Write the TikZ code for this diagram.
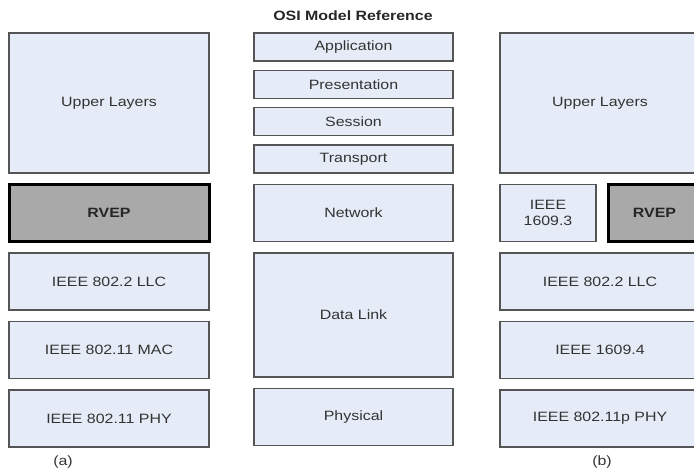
\documentclass[tikz,border=0pt]{standalone}
\usepackage{fontspec}
\setmainfont{Liberation Sans}[FakeStretch=1.18]
\usetikzlibrary{positioning}
\definecolor{layerfill}{HTML}{E6ECF7}
\definecolor{layerline}{HTML}{555555}
\definecolor{rvepfill}{HTML}{A9A9A9}
\definecolor{labeltext}{HTML}{333333}
\newcommand\layerfont{\fontsize{13.5}{16}\selectfont}
\tikzset{
  layer/.style={rectangle,draw=layerline,line width=1.2pt,fill=layerfill,text=labeltext,
    minimum width=200pt,minimum height=57pt,inner sep=0pt,outer sep=0pt},
  thinlayer/.style={layer,minimum width=199pt,minimum height=28pt},
  rvep/.style={layer,draw=black,line width=3pt,fill=rvepfill,text=black!85,font=\layerfont\bfseries},
}
\begin{document}
\begin{tikzpicture}[x=1pt,y=1pt,node distance=11.5pt,font=\layerfont]
\useasboundingbox (0,0) rectangle (694,472);
\node[font=\layerfont\bfseries,text=black!85] (title) at (353,456) {OSI Model Reference};
% (a) stack
\node[layer,minimum height=140pt,anchor=north] (Ua) at (109,439) {Upper Layers};
\node[rvep,below=of Ua] (Ra) {RVEP};
\node[layer,below=of Ra] (LLCa) {IEEE 802.2 LLC};
\node[layer,below=of LLCa] (MACa) {IEEE 802.11 MAC};
\node[layer,below=of MACa] (PHYa) {IEEE 802.11 PHY};
\node[text=labeltext] (capa) at (63,10) {(a)};
% OSI reference stack
\node[thinlayer,anchor=north] (App) at (353.5,439) {Application};
\node[thinlayer,below=9.33pt of App] (Pres) {Presentation};
\node[thinlayer,below=9.33pt of Pres] (Sess) {Session};
\node[thinlayer,below=9.33pt of Sess] (Trans) {Transport};
\node[layer,minimum width=199pt,below=of Trans] (Net) {Network};
\node[layer,minimum width=199pt,minimum height=124pt,below=of Net] (DL) {Data Link};
\node[layer,minimum width=199pt,below=of DL] (Phys) {Physical};
% (b) stack
\node[layer,minimum height=140pt,anchor=north] (Ub) at (600,439) {Upper Layers};
\node[layer,minimum width=96pt,align=center,below=of Ub.south west,anchor=north west] (I3) {IEEE\\1609.3};
\node[rvep,minimum width=93pt,right=12pt of I3] (Rb) {RVEP};
\node[layer,below=80pt of Ub.south] (LLCb) {IEEE 802.2 LLC};
\node[layer,below=of LLCb] (I4) {IEEE 1609.4};
\node[layer,below=of I4] (PHYb) {IEEE 802.11p PHY};
\node[text=labeltext] (capb) at (602,10) {(b)};
\end{tikzpicture}
\end{document}
